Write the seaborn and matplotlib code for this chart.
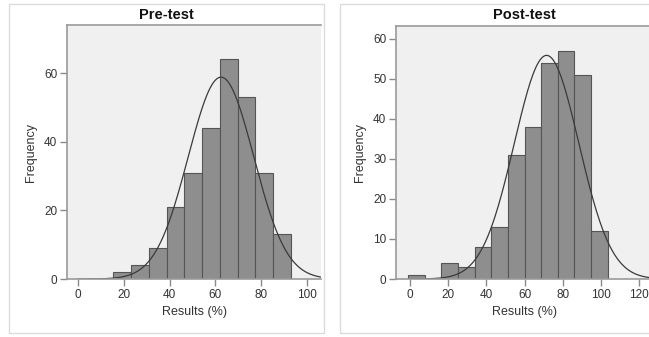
import numpy as np
import pandas as pd
import matplotlib.pyplot as plt
import seaborn as sns
from matplotlib.patches import Rectangle

# histogram bins (SPSS style output)
pre_edges = [15.5, 23.25, 31.0, 38.75, 46.5, 54.25, 62.0, 69.75, 77.5, 85.25, 93.0]
pre_counts = [2, 4, 9, 21, 31, 44, 64, 53, 31, 13]
pre_mean, pre_sd = 62.5, 14.3

post_edges = [-0.9, 7.8, 16.5, 25.2, 33.9, 42.6, 51.3, 60.0, 68.7, 77.4, 86.1, 94.8, 103.5]
post_counts = [1, 0, 4, 3, 8, 13, 31, 38, 54, 57, 51, 12]
post_mean, post_sd = 71.5, 16.9

sns.set_style("white")
plt.rcParams['font.family'] = ['Liberation Sans', 'DejaVu Sans']

W, H = 649, 337
fig = plt.figure(figsize=(W / 100, H / 100), dpi=100)

def px(x0, y0, x1, y1):
    return [x0 / W, 1 - y1 / H, (x1 - x0) / W, (y1 - y0) / H]

# light grey frames round each panel
for x0, x1 in [(9, 324), (340, 712)]:
    fig.patches.append(Rectangle((x0 / W, 4 / H), (x1 - x0) / W, (H - 8) / H,
                                 transform=fig.transFigure, fill=False,
                                 edgecolor='#dcdcdc', lw=1.0))

panels = [
    dict(title='Pre-test', edges=pre_edges, counts=pre_counts, mean=pre_mean, sd=pre_sd,
         pos=px(67, 25, 321, 279), xlim=(-4.8, 106.2), ylim=(0, 74),
         xticks=range(0, 101, 20), yticks=range(0, 61, 20), tx=166, curve=(0, 106)),
    dict(title='Post-test', edges=post_edges, counts=post_counts, mean=post_mean, sd=post_sd,
         pos=px(396, 26, 654, 279), xlim=(-7.3, 127.7), ylim=(0, 63.2),
         xticks=range(0, 121, 20), yticks=range(0, 61, 10), tx=524, curve=(0, 128)),
]

for p in panels:
    ax = fig.add_axes(p['pos'])
    edges = np.array(p['edges'])
    centers = (edges[:-1] + edges[1:]) / 2
    df = pd.DataFrame({'score': centers, 'n': p['counts']})
    sns.histplot(data=df, x='score', weights='n', bins=list(p['edges']), ax=ax,
                 color='#8e8e8e', edgecolor='#555555', linewidth=0.8, alpha=1)

    # fitted normal curve
    xs = np.linspace(p['curve'][0], p['curve'][1], 300)
    n = sum(p['counts'])
    bw = edges[1] - edges[0]
    ys = n * bw / (p['sd'] * np.sqrt(2 * np.pi)) * np.exp(-0.5 * ((xs - p['mean']) / p['sd']) ** 2)
    sns.lineplot(x=xs, y=ys, ax=ax, color='#3a3a3a', lw=0.9)

    ax.set_facecolor('#f0f0f0')
    ax.set_xlim(*p['xlim'])
    ax.set_ylim(*p['ylim'])
    ax.set_xticks(list(p['xticks']))
    ax.set_yticks(list(p['yticks']))
    ax.tick_params(axis='both', bottom=True, left=True, direction='out', length=5,
                   width=1, color='#8a8a8a', labelsize=8.5, labelcolor='#333333', pad=2)
    for s in ax.spines.values():
        s.set_color('#9a9a9a')
        s.set_linewidth(1.2)
    ax.spines['right'].set_visible(False)
    ax.set_xlabel('Results (%)', fontsize=9, color='#333333', labelpad=4)
    ax.set_ylabel('Frequency', fontsize=9, color='#333333', labelpad=5)
    fig.text(p['tx'] / W, 1 - 15 / H, p['title'], ha='center', va='center',
             fontsize=10.5, fontweight='bold', color='#111111')

fig.savefig('out.png', dpi=100)
